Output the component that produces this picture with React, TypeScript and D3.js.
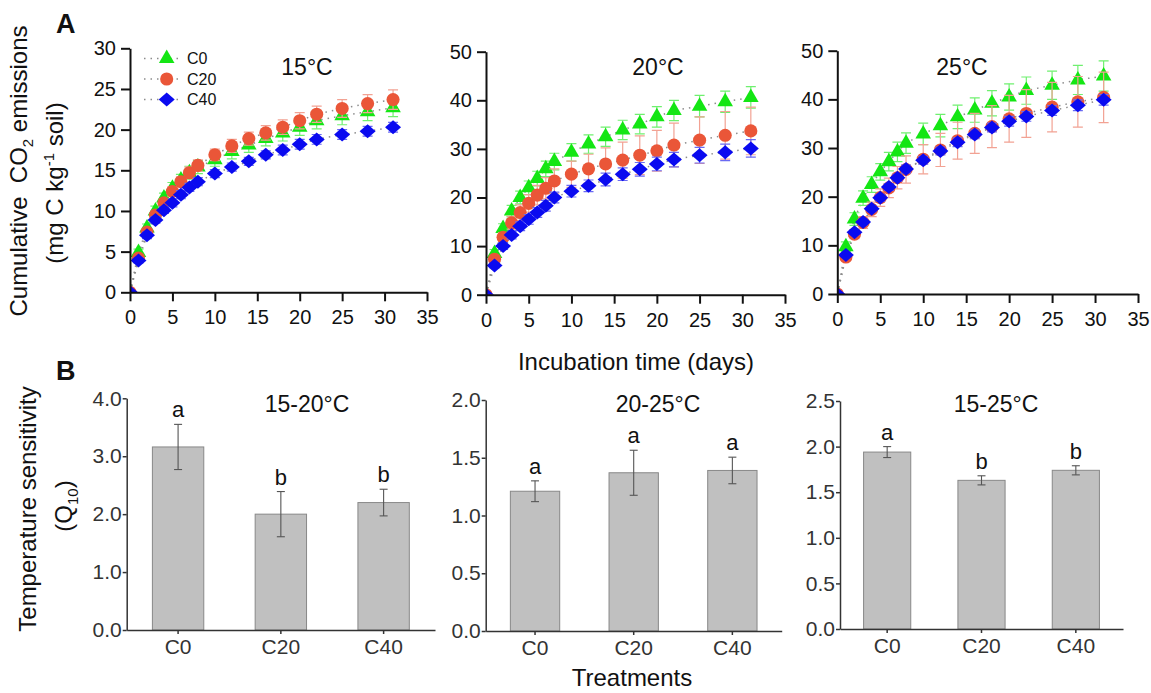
import React, { useEffect, useRef } from 'react';
import * as d3 from 'd3';

// incubation days sampled
const days = [0, 1, 2, 3, 4, 5, 6, 7, 8, 10, 12, 14, 16, 18, 20, 22, 25, 28, 31];
const treatments = ['C0', 'C20', 'C40'];

// cumulative CO2 at 15°C
const c0At15 = [0, 4.9, 7.9, 10.0, 11.6, 12.8, 13.8, 14.7, 15.4, 16.3, 17.3, 18.1, 18.9, 19.6, 20.3, 21.1, 21.7, 22.2, 22.7];
const c0At15Err = [0, 0.4, 0.5, 0.6, 0.6, 0.7, 0.7, 0.8, 0.8, 0.8, 0.9, 0.9, 0.9, 1.0, 1.0, 1.0, 1.1, 1.1, 1.1];
const c20At15 = [0, 4.2, 7.4, 9.5, 11.0, 12.4, 13.6, 14.7, 15.6, 16.9, 18.0, 18.9, 19.6, 20.3, 21.1, 21.9, 22.6, 23.2, 23.7];
const c20At15Err = [0, 0.3, 0.4, 0.5, 0.5, 0.6, 0.6, 0.7, 0.7, 0.7, 0.8, 0.8, 0.9, 0.9, 1.0, 1.0, 1.1, 1.1, 1.2];
const c40At15 = [0, 3.9, 7.0, 8.9, 10.1, 11.0, 12.0, 12.9, 13.6, 14.6, 15.4, 16.1, 16.9, 17.5, 18.2, 18.8, 19.4, 19.8, 20.3];
const c40At15Err = [0, 0.3, 0.4, 0.4, 0.4, 0.5, 0.5, 0.5, 0.5, 0.5, 0.5, 0.5, 0.5, 0.6, 0.6, 0.6, 0.6, 0.6, 0.6];

// cumulative CO2 at 20°C
const c0At20 = [0, 8.5, 13.6, 17.2, 20.0, 22.0, 23.9, 25.9, 27.4, 29.3, 31.0, 32.5, 33.9, 35.1, 36.6, 37.9, 38.8, 39.7, 40.6];
const c0At20Err = [0, 0.8, 1.0, 1.2, 1.3, 1.4, 1.5, 1.6, 1.7, 1.8, 1.9, 2.0, 2.0, 2.0, 2.1, 2.1, 2.2, 2.2, 2.2];
const c20At20 = [0, 7.3, 11.8, 14.8, 16.9, 18.8, 20.5, 21.9, 23.4, 24.8, 25.9, 26.9, 27.7, 28.7, 29.6, 30.8, 31.8, 32.8, 33.7];
const c20At20Err = [0, 0.6, 1.0, 1.3, 1.6, 1.8, 2.0, 2.2, 2.5, 2.7, 3.0, 3.3, 3.7, 4.0, 4.2, 4.5, 4.8, 4.9, 4.9];
const c40At20 = [0, 6.0, 10.0, 12.3, 14.1, 15.5, 16.9, 18.3, 20.0, 21.3, 22.4, 23.7, 24.8, 25.8, 26.9, 27.8, 28.7, 29.3, 30.1];
const c40At20Err = [0, 0.5, 0.7, 0.8, 0.9, 1.0, 1.0, 1.1, 1.1, 1.2, 1.2, 1.3, 1.3, 1.4, 1.4, 1.5, 1.6, 1.7, 1.8];

// cumulative CO2 at 25°C
const c0At25 = [0, 9.7, 15.4, 19.7, 22.5, 25.1, 27.2, 29.2, 31.0, 32.9, 34.6, 36.4, 37.8, 39.2, 40.5, 41.8, 42.9, 44.0, 44.8];
const c0At25Err = [0, 1.0, 1.3, 1.5, 1.6, 1.7, 1.9, 2.0, 2.1, 2.2, 2.3, 2.4, 2.5, 2.6, 2.7, 2.8, 2.9, 3.0, 3.1];
const c20At25 = [0, 7.6, 12.3, 14.7, 17.4, 19.8, 21.8, 23.9, 25.6, 27.7, 29.6, 31.5, 33.0, 34.4, 36.0, 37.1, 38.4, 39.5, 40.4];
const c20At25Err = [0, 0.6, 0.9, 1.2, 1.5, 1.8, 2.0, 2.3, 2.8, 3.0, 3.4, 3.8, 4.1, 4.3, 4.8, 4.9, 5.1, 5.2, 5.2];
const c40At25 = [0, 8.0, 12.7, 14.8, 17.5, 19.8, 22.0, 23.9, 25.7, 27.5, 29.4, 31.2, 32.8, 34.2, 35.5, 36.5, 37.7, 38.8, 39.9];
const c40At25Err = [0, 0.4, 0.5, 0.6, 0.6, 0.7, 0.7, 0.7, 0.8, 0.8, 0.8, 0.9, 0.9, 0.9, 1.0, 1.0, 1.0, 1.1, 1.1];

// Q10 values
const q10From15To20 = [3.16, 2.0, 2.2];
const q10From15To20Err = [0.39, 0.39, 0.23];
const letters15To20 = ['a', 'b', 'b'];
const q10From20To25 = [1.21, 1.37, 1.39];
const q10From20To25Err = [0.09, 0.195, 0.115];
const letters20To25 = ['a', 'a', 'a'];
const q10From15To25 = [1.94, 1.63, 1.74];
const q10From15To25Err = [0.06, 0.05, 0.05];
const letters15To25 = ['a', 'b', 'b'];

const FONT = 'Arial, "Liberation Sans", Helvetica, sans-serif';

const diamond = 'M0,-7L8,0L0,7L-8,0Z';
const seriesStyle = [
  { name: 'C0', color: '#14e614', errColor: '#6ff06f', path: d3.symbol().type(d3.symbolTriangle).size(105)() },
  { name: 'C20', color: '#ea5638', errColor: '#f2a293', path: d3.symbol().type(d3.symbolCircle).size(135)() },
  { name: 'C40', color: '#0a0af0', errColor: '#6a6af2', path: diamond },
];

const topPanels = [
  {
    title: '15°C', yMax: 30, yTicks: [0, 5, 10, 15, 20, 25, 30], xRange: [130, 427], yRange: [292.3, 48.3], titleX: 307,
    series: [
      { values: c0At15, err: c0At15Err },
      { values: c20At15, err: c20At15Err },
      { values: c40At15, err: c40At15Err },
    ],
  },
  {
    title: '20°C', yMax: 50, yTicks: [0, 10, 20, 30, 40, 50], xRange: [486, 785], yRange: [294.7, 51.7], titleX: 658,
    series: [
      { values: c0At20, err: c0At20Err },
      { values: c20At20, err: c20At20Err },
      { values: c40At20, err: c40At20Err },
    ],
  },
  {
    title: '25°C', yMax: 50, yTicks: [0, 10, 20, 30, 40, 50], xRange: [837.3, 1138], yRange: [294, 50.7], titleX: 962,
    series: [
      { values: c0At25, err: c0At25Err },
      { values: c20At25, err: c20At25Err },
      { values: c40At25, err: c40At25Err },
    ],
  },
];

const bottomPanels = [
  { title: '15-20°C', yMax: 4, yTicks: [0, 1, 2, 3, 4], xRange: [126.7, 435], yRange: [630, 398.3], titleX: 307, values: q10From15To20, err: q10From15To20Err, letters: letters15To20 },
  { title: '20-25°C', yMax: 2, yTicks: [0, 0.5, 1, 1.5, 2], xRange: [485.7, 781.7], yRange: [631, 400], titleX: 658, values: q10From20To25, err: q10From20To25Err, letters: letters20To25 },
  { title: '15-25°C', yMax: 2.5, yTicks: [0, 0.5, 1, 1.5, 2, 2.5], xRange: [840, 1123], yRange: [629, 401], titleX: 996, values: q10From15To25, err: q10From15To25Err, letters: letters15To25 },
];

const App = () => {
  const svgRef = useRef<SVGSVGElement>(null);

  useEffect(() => {
    const svg = d3.select(svgRef.current);
    svg.selectAll('*').remove();
    const defs = svg.append('defs');

    const styleAxis = (g: any, color: string, width: number, size: number) => {
      g.attr('font-family', FONT).attr('font-size', size);
      g.select('.domain').attr('stroke', color).attr('stroke-width', width);
      g.selectAll('.tick line').attr('stroke', color).attr('stroke-width', width);
      g.selectAll('.tick text').attr('fill', '#111');
    };

    // ---- A: cumulative emissions
    topPanels.forEach((p, pi) => {
      const x = d3.scaleLinear().domain([0, 35]).range(p.xRange);
      const y = d3.scaleLinear().domain([0, p.yMax]).range(p.yRange);
      const g = svg.append('g');

      const clipId = `clipA${pi}`;
      defs.append('clipPath').attr('id', clipId).append('rect')
        .attr('x', x(0)).attr('y', y(p.yMax) - 10)
        .attr('width', x(35) - x(0)).attr('height', y(0) - y(p.yMax) + 10);
      const plot = g.append('g').attr('clip-path', `url(#${clipId})`);

      p.series.forEach((s) => {
        plot.append('path')
          .datum(s.values)
          .attr('d', d3.line<number>().x((d, i) => x(days[i])).y((d) => y(d)))
          .attr('fill', 'none')
          .attr('stroke', '#8c8c8c')
          .attr('stroke-width', 1.5)
          .attr('stroke-dasharray', '1.5,5');
      });

      p.series.forEach((s, si) => {
        const st = seriesStyle[si];
        const eg = plot.append('g').attr('stroke', st.errColor).attr('stroke-width', 1.2);
        s.values.forEach((v, i) => {
          const e = s.err[i];
          if (!e) return;
          const cx = x(days[i]);
          eg.append('line').attr('x1', cx).attr('x2', cx).attr('y1', y(v - e)).attr('y2', y(v + e));
          eg.append('line').attr('x1', cx - 5).attr('x2', cx + 5).attr('y1', y(v - e)).attr('y2', y(v - e));
          eg.append('line').attr('x1', cx - 5).attr('x2', cx + 5).attr('y1', y(v + e)).attr('y2', y(v + e));
        });
        plot.append('g').selectAll('path')
          .data(s.values)
          .enter()
          .append('path')
          .attr('transform', (d, i) => `translate(${x(days[i])},${y(d)})`)
          .attr('d', st.path)
          .attr('fill', st.color);
      });

      const xAxis = g.append('g')
        .attr('transform', `translate(0,${y(0)})`)
        .call(d3.axisBottom(x).tickValues([0, 5, 10, 15, 20, 25, 30, 35]).tickSize(9).tickPadding(9).tickSizeOuter(0));
      styleAxis(xAxis, '#111', 2, 20);

      const yAxis = g.append('g')
        .attr('transform', `translate(${x(0)},0)`)
        .call(d3.axisLeft(y).tickValues(p.yTicks).tickSize(9).tickPadding(5).tickSizeOuter(0));
      styleAxis(yAxis, '#111', 2, 20);

      g.append('text')
        .attr('x', p.titleX).attr('y', 75)
        .attr('text-anchor', 'middle')
        .attr('font-family', FONT).attr('font-size', 23).attr('fill', '#111')
        .text(p.title);
    });

    // legend in first panel
    const legend = svg.append('g');
    seriesStyle.forEach((st, i) => {
      const ly = 58.5 + i * 20.5;
      legend.append('line')
        .attr('x1', 144).attr('x2', 183).attr('y1', ly).attr('y2', ly)
        .attr('stroke', '#8c8c8c').attr('stroke-width', 1.5).attr('stroke-dasharray', '1.5,5');
      legend.append('path').attr('transform', `translate(166.7,${ly})`).attr('d', st.path).attr('fill', st.color);
      legend.append('text')
        .attr('x', 187).attr('y', ly).attr('dy', '0.36em')
        .attr('font-family', FONT).attr('font-size', 16).attr('fill', '#111')
        .text(st.name);
    });

    // ---- B: Q10 bars
    bottomPanels.forEach((p) => {
      const x = d3.scaleBand().domain(treatments).range(p.xRange).paddingInner(0.5).paddingOuter(0.25);
      const y = d3.scaleLinear().domain([0, p.yMax]).range(p.yRange);
      const g = svg.append('g');

      g.selectAll('rect')
        .data(p.values)
        .enter()
        .append('rect')
        .attr('x', (d, i) => x(treatments[i]) as number)
        .attr('y', (d) => y(d))
        .attr('width', x.bandwidth())
        .attr('height', (d) => y(0) - y(d))
        .attr('fill', '#c0c0c0')
        .attr('stroke', '#888')
        .attr('stroke-width', 1);

      const eg = g.append('g').attr('stroke', '#555').attr('stroke-width', 1.1);
      p.values.forEach((v, i) => {
        const e = p.err[i];
        const cx = (x(treatments[i]) as number) + x.bandwidth() / 2;
        eg.append('line').attr('x1', cx).attr('x2', cx).attr('y1', y(v - e)).attr('y2', y(v + e));
        eg.append('line').attr('x1', cx - 4).attr('x2', cx + 4).attr('y1', y(v - e)).attr('y2', y(v - e));
        eg.append('line').attr('x1', cx - 4).attr('x2', cx + 4).attr('y1', y(v + e)).attr('y2', y(v + e));
        g.append('text')
          .attr('x', cx).attr('y', y(v + e) - 7)
          .attr('text-anchor', 'middle')
          .attr('font-family', FONT).attr('font-size', 22).attr('fill', '#111')
          .text(p.letters[i]);
      });

      const xAxis = g.append('g')
        .attr('transform', `translate(0,${y(0)})`)
        .call(d3.axisBottom(x).tickSize(4).tickPadding(5).tickSizeOuter(0));
      styleAxis(xAxis, '#333', 1.5, 21);

      const yAxis = g.append('g')
        .attr('transform', `translate(${p.xRange[0]},0)`)
        .call(d3.axisLeft(y).tickValues(p.yTicks).tickFormat(d3.format('.1f')).tickSize(4).tickPadding(1).tickSizeOuter(0));
      styleAxis(yAxis, '#333', 1.5, 21);
      yAxis.selectAll('.tick text').attr('fill', '#333');
      xAxis.selectAll('.tick text').attr('fill', '#333');

      g.append('text')
        .attr('x', p.titleX).attr('y', 411.5)
        .attr('text-anchor', 'middle')
        .attr('font-family', FONT).attr('font-size', 23).attr('fill', '#111')
        .text(p.title);
    });

    // ---- labels
    const lab = svg.append('g').attr('font-family', FONT).attr('fill', '#111');

    lab.append('text').attr('x', 56).attr('y', 33).attr('font-size', 27).attr('font-weight', 'bold').text('A');
    lab.append('text').attr('x', 56).attr('y', 380).attr('font-size', 27).attr('font-weight', 'bold').text('B');

    const y1 = lab.append('text').attr('transform', 'translate(27,171) rotate(-90)').attr('text-anchor', 'middle').attr('font-size', 24);
    y1.append('tspan').text('Cumulative\u00a0\u00a0CO');
    y1.append('tspan').attr('font-size', 15).attr('dy', 6).text('2');
    y1.append('tspan').attr('dy', -6).text(' emissions');

    const y2 = lab.append('text').attr('transform', 'translate(63,183) rotate(-90)').attr('text-anchor', 'middle').attr('font-size', 24);
    y2.append('tspan').text('(mg C kg');
    y2.append('tspan').attr('font-size', 15).attr('dy', -9).text('-1');
    y2.append('tspan').attr('dy', 9).text(' soil)');

    lab.append('text').attr('transform', 'translate(36,509) rotate(-90)').attr('text-anchor', 'middle').attr('font-size', 24)
      .text('Temperature sensitivity');

    const q = lab.append('text').attr('transform', 'translate(72,506) rotate(-90)').attr('text-anchor', 'middle').attr('font-size', 24);
    q.append('tspan').text('(Q');
    q.append('tspan').attr('font-size', 15).attr('dy', 6).text('10');
    q.append('tspan').attr('dy', -6).text(')');

    lab.append('text').attr('x', 636).attr('y', 370).attr('text-anchor', 'middle').attr('font-size', 24).text('Incubation time (days)');
    lab.append('text').attr('x', 632).attr('y', 686).attr('text-anchor', 'middle').attr('font-size', 24).text('Treatments');
  }, []);

  return (
    <svg ref={svgRef} width={1151} height={693} style={{ position: 'absolute', left: 0, top: 0, background: '#fff' }}></svg>
  );
};

export default App;
